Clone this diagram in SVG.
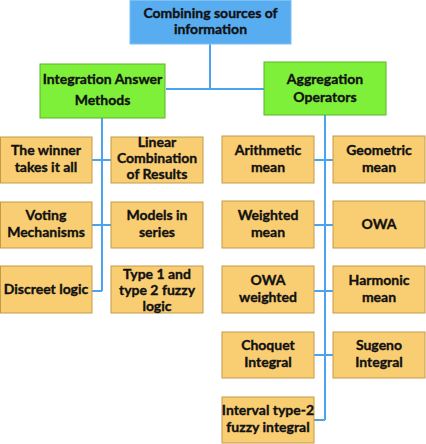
<svg xmlns="http://www.w3.org/2000/svg" width="426" height="444" viewBox="0 0 426 444">
<style>
text{font-family:Lato,"Open Sans","Liberation Sans",sans-serif;font-weight:bold;font-size:14px;fill:#111;stroke:#111;stroke-width:0.35;text-anchor:middle}
.top{fill:#58acf0;stroke:#7cc0f4;stroke-width:1}
.grn{fill:#7ff03a;stroke:#5ab428;stroke-width:1}
.org{fill:#f9cd72;stroke:#c49a48;stroke-width:1}
.c{stroke:#4aa3ef;stroke-width:2;fill:none}
</style>
<rect width="426" height="444" fill="#fff"/>
<g id="connectors">
<path class="c" d="M210 44V89M166 89H264"/>
<path class="c" d="M102 118V291M92 160H111M92 225H111M92 291H102"/>
<path class="c" d="M325 115V420M314 160H333M314 225H333M314 291H333M314 355H333M314 420H325"/>
</g>
<g id="n_root"><rect class="top" x="130" y="0.5" width="161" height="43.5"/><text x="210.5" y="18">Combining sources of</text><text x="210.5" y="34">information</text></g>
<g id="n_integration"><rect class="grn" x="40" y="64" width="125" height="54"/><text x="102.5" y="84">Integration Answer</text><text x="102.5" y="105">Methods</text></g>
<g id="n_aggregation"><rect class="grn" x="264" y="62" width="122" height="53"/><text x="325" y="84">Aggregation</text><text x="325" y="102">Operators</text></g>
<g id="n_winner"><rect class="org" x="0.5" y="137" width="91.5" height="46"/><text x="46" y="155">The winner</text><text x="46" y="172">takes it all</text></g>
<g id="n_linear"><rect class="org" x="111" y="137" width="92" height="46"/><text x="157" y="147">Linear</text><text x="157" y="163">Combination</text><text x="157" y="179">of Results</text></g>
<g id="n_voting"><rect class="org" x="0.5" y="202" width="91.5" height="46"/><text x="46" y="220">Voting</text><text x="46" y="237">Mechanisms</text></g>
<g id="n_models"><rect class="org" x="111" y="202" width="92" height="46"/><text x="157" y="220">Models in</text><text x="157" y="237">series</text></g>
<g id="n_discreet"><rect class="org" x="0.5" y="266" width="91.5" height="47"/><text x="46" y="294">Discreet logic</text></g>
<g id="n_type12"><rect class="org" x="111" y="266" width="92" height="47"/><text x="157" y="279">Type 1 and</text><text x="157" y="295">type 2 fuzzy</text><text x="157" y="311">logic</text></g>
<g id="n_arith"><rect class="org" x="222" y="136" width="92" height="47"/><text x="268" y="155">Arithmetic</text><text x="268" y="172">mean</text></g>
<g id="n_geom"><rect class="org" x="333" y="136" width="92" height="47"/><text x="379" y="155">Geometric</text><text x="379" y="172">mean</text></g>
<g id="n_weighted"><rect class="org" x="222" y="201" width="92" height="47"/><text x="268" y="220">Weighted</text><text x="268" y="237">mean</text></g>
<g id="n_owa"><rect class="org" x="333" y="201" width="92" height="47"/><text x="379" y="229">OWA</text></g>
<g id="n_owaw"><rect class="org" x="222" y="266" width="92" height="47"/><text x="268" y="285">OWA</text><text x="268" y="302">weighted</text></g>
<g id="n_harm"><rect class="org" x="333" y="266" width="92" height="47"/><text x="379" y="285">Harmonic</text><text x="379" y="302">mean</text></g>
<g id="n_choquet"><rect class="org" x="222" y="332" width="92" height="46"/><text x="268" y="350">Choquet</text><text x="268" y="367">Integral</text></g>
<g id="n_sugeno"><rect class="org" x="333" y="332" width="92" height="46"/><text x="379" y="350">Sugeno</text><text x="379" y="367">Integral</text></g>
<g id="n_interval"><rect class="org" x="222" y="397" width="92" height="46"/><text x="268" y="415">Interval type-2</text><text x="268" y="432">fuzzy integral</text></g>
</svg>
